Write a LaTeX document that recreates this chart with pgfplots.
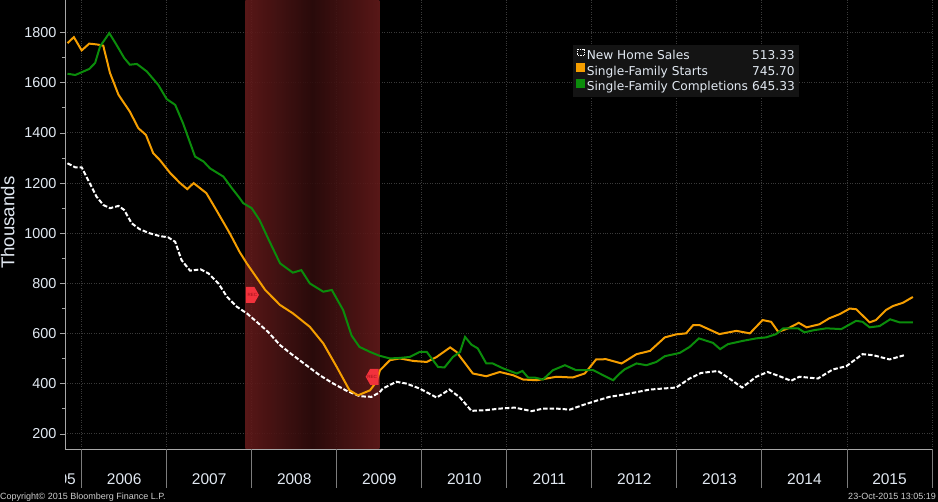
\documentclass[border=0pt]{standalone}
\usepackage{fontspec}
\setmainfont{Liberation Sans}
\newfontfamily\dejavu{DejaVu Sans}
\usepackage{pgfplots}
\pgfplotsset{compat=1.18}

\definecolor{starts}{HTML}{F59E00}
\definecolor{compl}{HTML}{0B8C0B}
\definecolor{txt}{HTML}{E2E9F2}
\definecolor{gridc}{HTML}{3A3A3A}
\definecolor{axisgray}{HTML}{A8A8A8}
\definecolor{sepgray}{HTML}{7C7C7C}
\definecolor{recedge}{HTML}{621A1A}
\definecolor{recmid}{HTML}{2E0C0C}
\definecolor{recmark}{HTML}{F2323C}
\definecolor{recdark}{HTML}{9A1018}
\definecolor{legbg}{HTML}{141414}
\definecolor{foot}{HTML}{CFCFCF}

\pgfdeclareplotmark{recR}{%
  \pgfpathmoveto{\pgfqpoint{-6.5pt}{8pt}}%
  \pgfpathlineto{\pgfqpoint{2pt}{8pt}}%
  \pgfpathlineto{\pgfqpoint{6.5pt}{0pt}}%
  \pgfpathlineto{\pgfqpoint{2pt}{-8pt}}%
  \pgfpathlineto{\pgfqpoint{-6.5pt}{-8pt}}%
  \pgfpathclose\pgfusepathqfill
  \pgftext{\fontsize{4.5}{5}\selectfont\color{recdark}REC}}
\pgfdeclareplotmark{recL}{%
  \pgfpathmoveto{\pgfqpoint{6.5pt}{8pt}}%
  \pgfpathlineto{\pgfqpoint{-2pt}{8pt}}%
  \pgfpathlineto{\pgfqpoint{-6.5pt}{0pt}}%
  \pgfpathlineto{\pgfqpoint{-2pt}{-8pt}}%
  \pgfpathlineto{\pgfqpoint{6.5pt}{-8pt}}%
  \pgfpathclose\pgfusepathqfill
  \pgftext{\fontsize{4.5}{5}\selectfont\color{recdark}REC}}

\begin{document}
\begin{tikzpicture}
\fill[black] (0pt,0pt) rectangle (938pt,502pt);
\begin{axis}[
  at={(65pt,53pt)}, anchor=south west,
  scale only axis, width=867pt, height=449pt,
  xmin=-2.35, xmax=120, ymin=140, ymax=1930,
  axis lines=left,
  axis line style={-, draw=axisgray, line width=0.9pt},
  xtick={0,12,...,120}, xticklabels={},
  xtick style={draw=none},
  ytick={200,400,...,1800},
  minor y tick num=1,
  tick align=outside,
  major tick length=5pt, minor tick length=3pt,
  ytick style={draw=axisgray, line width=0.8pt},
  /pgf/number format/assume math mode=true,
  /pgf/number format/1000 sep={},
  yticklabel style={text=txt, font=\fontsize{14.4}{16}\selectfont},
  grid=major,
  major grid style={dotted, draw=gridc, line width=0.9pt},
  ylabel={Thousands},
  ylabel style={at={(axis description cs:-0.066,0.504)}, anchor=center, rotate=0, text=txt, font=\fontsize{18.6}{20}\selectfont},
  legend style={at={(rel axis cs:0.586,0.900)}, anchor=north west,
    fill=legbg, draw=none, text=txt,
    font=\dejavu\fontsize{12.2}{13}\selectfont,
    inner xsep=3pt, inner ysep=3.5pt, row sep=0.6pt,
    nodes={inner xsep=1.5pt, inner ysep=1pt}},
  legend cell align=left,
]
% recession band
\addplot[draw=none, forget plot, left color=recedge, right color=recedge, middle color=recmid, fill opacity=0.9]
  coordinates {(23.1,1930) (23.1,140) (42,140) (42,1930)} -- cycle;

% New Home Sales
\addplot[white, line width=2pt, dash pattern=on 4.5pt off 2pt,
  legend image code/.code={\draw[white, line width=0.7pt, densely dotted] (0.4pt,0.9pt) rectangle (6.6pt,7.1pt);}]
coordinates {
(-2,1279) (-0.9,1263) (0,1263) (0.9,1213) (2.1,1146) (3.05,1113) (4,1100) (5.2,1109) (6,1093)
(7.05,1040) (8.2,1016) (9.6,1000) (11,989) (12.2,984) (13.2,966) (14.1,893) (15.3,851) (16.8,856)
(17.9,840) (19.3,800) (20.5,747) (21.9,707) (23.3,681) (24.7,647) (26.3,607) (28,554) (29.8,514)
(31.7,474) (33.6,434) (35.5,401) (37.4,372) (39.3,350) (40.9,348) (42,365) (42.5,381) (44.4,408)
(45.8,401) (47.7,381) (50.1,345) (51.9,377) (53.4,345) (55,292) (57.1,295) (59,301) (61.1,305)
(63.5,291) (65.1,301) (67,301) (68.9,297) (70.7,315) (72.6,332) (74.5,348) (75.9,354) (78,365)
(80.2,377) (83.9,385) (85.8,421) (87.4,443) (89.8,451) (91.4,421) (93.2,385) (95.2,428) (96.8,447)
(98.5,430) (100.1,412) (101.3,428) (103.9,421) (106,457) (107.9,470) (110.2,518) (111.7,514)
(114,497) (116.1,514)
};
\addlegendentry{\strut\makebox[163pt][l]{New Home Sales}\makebox[45pt][r]{513.33}}

% Single-Family Starts
\addplot[starts, line width=2pt,
  legend image code/.code={\fill[starts] (0pt,0.5pt) rectangle (7pt,7.5pt);}]
coordinates {
(-2,1758) (-1.1,1782) (0,1729) (1.07,1756) (2.1,1753) (3.05,1748) (4,1639) (5.2,1552) (6.8,1485)
(8,1419) (9.07,1392) (10.1,1319) (11,1293) (12.5,1240) (13.9,1200) (14.9,1176) (15.8,1200)
(17.6,1160) (19,1093) (20.9,1000) (22.3,925) (23.3,880) (25.9,774) (28,714) (29.8,681) (32.2,627)
(34.1,561) (36,467) (37.8,374) (39,354) (40.7,374) (41.6,408) (42.1,454) (43.5,494) (44.9,501)
(46.8,491) (48.7,487) (50.1,507) (52,545) (52.9,527) (55.2,441) (57.1,430) (59,447) (60.9,434)
(62.3,417) (64.2,414) (67,428) (69.3,425) (71,441) (72.6,497) (74,498) (76.2,481) (78.3,518)
(80.2,531) (82.3,585) (83.9,597) (85.3,601) (86.3,634) (87.2,634) (90,598) (92.4,611) (94.3,601)
(96.1,654) (97.3,647) (98.3,607) (99.7,621) (101.2,643) (102.3,625) (104.1,637) (105.5,661)
(107,678) (108.4,700) (109.3,697) (111.2,645) (112.1,654) (113.5,694) (114.5,710) (115.9,723)
(117.3,746)
};
\addlegendentry{\strut\makebox[163pt][l]{Single-Family Starts}\makebox[45pt][r]{745.70}}

% Single-Family Completions
\addplot[compl, line width=2pt,
  legend image code/.code={\fill[compl] (0pt,0.5pt) rectangle (7pt,7.5pt);}]
coordinates {
(-2,1636) (-0.9,1631) (1.07,1655) (1.9,1679) (2.6,1745) (3.9,1798) (4.9,1752) (6,1699) (6.8,1672)
(7.8,1675) (9.2,1645) (10.8,1592) (12,1535) (13.2,1512) (14.3,1439) (16,1306) (17.2,1286)
(18.1,1259) (20,1226) (21.2,1180) (22.3,1140) (22.8,1120) (24,1100) (25.1,1053) (26.3,980)
(28,880) (29.8,843) (31,853) (32.2,800) (34.1,767) (35.3,774) (36.9,694) (38.1,592) (39.2,547)
(40.7,527) (42,512) (43.5,501) (44.9,503) (46.3,507) (47.7,527) (48.7,527) (50.3,467) (51.2,465)
(52.4,507) (53.4,527) (54.1,587) (55,556) (55.9,541) (57.1,481) (58,481) (59.5,461) (61.4,441)
(62.2,451) (63,425) (63.9,425) (65.1,417) (66.5,454) (68.2,474) (69.8,454) (72.2,454) (73.6,434)
(75,414) (75.9,440) (76.6,457) (78.3,481) (79.7,474) (81.1,487) (82.3,510) (84.4,523) (85.8,547)
(87.1,581) (89.1,563) (90.1,538) (91.2,558) (93.3,571) (95.2,581) (96.6,585) (98,598) (99,621)
(101.1,621) (102,605) (103.4,614) (105.1,621) (107.2,618) (109.3,651) (110.2,647) (111.2,625)
(112.6,630) (114.1,657) (115.4,645) (117.3,645)
};
\addlegendentry{\strut\makebox[163pt][l]{Single-Family Completions}\makebox[45pt][r]{645.33}}

% recession markers
\addplot[forget plot, only marks, mark=recR, color=recmark, mark options={fill=recmark, draw=none}] coordinates {(24.1,754)};
\addplot[forget plot, only marks, mark=recL, color=recmark, mark options={fill=recmark, draw=none}] coordinates {(41.0,428)};
\end{axis}

% year separators and labels
\foreach \k in {0,...,10} {
  \draw[sepgray, line width=0.9pt] ({81.65+85.035*\k*1pt},53pt) -- ++(0pt,-39pt);
}
\foreach \k/\yr in {0/2006,1/2007,2/2008,3/2009,4/2010,5/2011,6/2012,7/2013,8/2014,9/2015} {
  \node[text=txt, font=\fontsize{15.5}{17}\selectfont, inner sep=0pt, anchor=center]
    at ({124.17pt+85.035pt*\k},23pt) {\yr};
}
\begin{scope}
  \clip (65pt,0pt) rectangle (81pt,52pt);
  \node[text=txt, font=\fontsize{15.5}{17}\selectfont, inner sep=0pt, anchor=east] at (76pt,23pt) {05};
\end{scope}
\node[anchor=base west, inner sep=0pt, text=foot, font=\fontsize{9}{10}\selectfont] at (0pt,2pt) {Copyright© 2015 Bloomberg Finance L.P.};
\node[anchor=base east, inner sep=0pt, text=foot, font=\fontsize{9}{10}\selectfont] at (936pt,2pt) {23-Oct-2015 13:05:19};
\pgfresetboundingbox
\useasboundingbox (0pt,0pt) rectangle (938pt,502pt);
\end{tikzpicture}
\end{document}
